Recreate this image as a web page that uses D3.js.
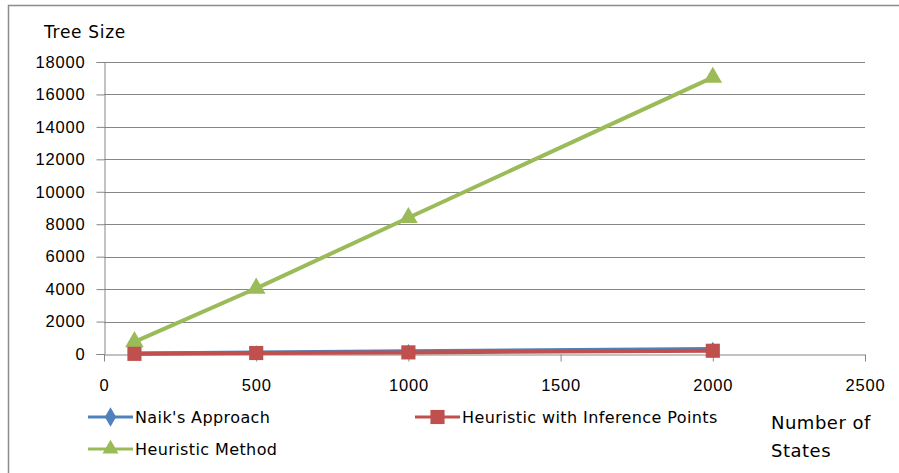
<!DOCTYPE html>
<html>
<head>
<meta charset="utf-8">
<script src="https://cdn.jsdelivr.net/npm/d3@7"></script>
<style>
  body { margin: 0; background: #fff; }
  svg { display: block; font-family: "DejaVu Sans", sans-serif; }
</style>
</head>
<body>
<div id="chart"></div>
<script>
// values
const states = [100, 500, 1000, 2000]
const naik = [25, 100, 170, 310]
const inference = [10, 60, 100, 200]
const heuristic = [750, 4050, 8400, 17050]
const yTicks = [0, 2000, 4000, 6000, 8000, 10000, 12000, 14000, 16000, 18000]
const xTicks = [0, 500, 1000, 1500, 2000, 2500]

const series = [
    { name: "Naik's Approach", values: naik, color: '#4F81BD', marker: d3.symbolDiamond },
    { name: 'Heuristic with  Inference Points', values: inference, color: '#C0504D', marker: d3.symbolSquare },
    { name: 'Heuristic Method', values: heuristic, color: '#9BBB59', marker: d3.symbolTriangle }
]

const width = 899, height = 473
const svg = d3.select('#chart').append('svg')
    .attr('width', width)
    .attr('height', height)

// outer frame
svg.append('rect')
    .attr('x', 8.5).attr('y', 5.5)
    .attr('width', 920).attr('height', 500)
    .attr('fill', 'none')
    .attr('stroke', '#8c8c8c')
    .attr('stroke-width', 1.5)

let x = d3.scaleLinear().domain([0, 2500]).range([104, 865])
let y = d3.scaleLinear().domain([0, 18000]).range([354, 62])

// gridlines
svg.append('g')
    .selectAll('line')
    .data(yTicks.filter(d => d > 0))
    .join('line')
    .attr('x1', x(0)).attr('x2', x(2500))
    .attr('y1', d => Math.round(y(d)) + 0.5)
    .attr('y2', d => Math.round(y(d)) + 0.5)
    .attr('stroke', '#868686')

let yAxis = svg.append('g')
    .attr('transform', `translate(${x(0) + 0.5},0)`)
    .call(d3.axisLeft(y).tickValues(yTicks).tickSize(8).tickPadding(11).tickFormat(d3.format('d')))
yAxis.select('.domain').attr('stroke', '#868686')
yAxis.selectAll('.tick line').attr('stroke', '#868686')
yAxis.selectAll('.tick text').attr('font-size', 16.5).attr('letter-spacing', 0.8).attr('fill', '#000')

let xAxis = svg.append('g')
    .attr('transform', `translate(0,${y(0) + 0.5})`)
    .call(d3.axisBottom(x).tickValues(xTicks).tickSize(7).tickSizeOuter(0).tickPadding(18).tickFormat(d3.format('d')))
xAxis.select('.domain').attr('stroke', '#868686')
xAxis.selectAll('.tick line').attr('stroke', '#868686')
xAxis.selectAll('.tick text').attr('font-size', 16.5).attr('letter-spacing', 0.8).attr('fill', '#000')

// axis titles
svg.append('text').attr('x', 44).attr('y', 38)
    .attr('font-size', 17).attr('letter-spacing', 0.7).text('Tree Size')
svg.append('text').attr('x', 771).attr('y', 429)
    .attr('font-size', 18).attr('letter-spacing', 0.5).text('Number of')
svg.append('text').attr('x', 771).attr('y', 457)
    .attr('font-size', 18).attr('letter-spacing', 0.5).text('States')

let line = d3.line()
    .x((d, i) => x(states[i]))
    .y(d => y(d))

let drawOrder = [series[0], series[2], series[1]]
drawOrder.forEach(s => {
    svg.append('path')
        .datum(s.values)
        .attr('d', line)
        .attr('fill', 'none')
        .attr('stroke', s.color)
        .attr('stroke-width', 4)
    svg.append('g')
        .selectAll('path')
        .data(s.values)
        .join('path')
        .attr('transform', (d, i) => `translate(${x(states[i])},${y(d)})`)
        .attr('d', d3.symbol().type(s.marker).size(s.marker === d3.symbolSquare ? 200 : (s.marker === d3.symbolDiamond ? 60 : 150)))
        .attr('fill', s.color)
})

// legend
const legendPos = [[88, 417], [415, 417], [88, 449]]
series.forEach((s, i) => {
    let [lx, ly] = legendPos[i]
    let g = svg.append('g').attr('transform', `translate(${lx},${ly})`)
    g.append('line').attr('x1', 0).attr('x2', 45)
        .attr('stroke', s.color).attr('stroke-width', 3)
    g.append('path')
        .attr('transform', 'translate(22.5,0)')
        .attr('d', d3.symbol().type(s.marker).size(s.marker === d3.symbolSquare ? 200 : 110))
        .attr('fill', s.color)
    g.append('text').attr('x', 47).attr('y', 6)
        .attr('font-size', 16).attr('letter-spacing', 0.4).text(s.name)
})
</script>
</body>
</html>
